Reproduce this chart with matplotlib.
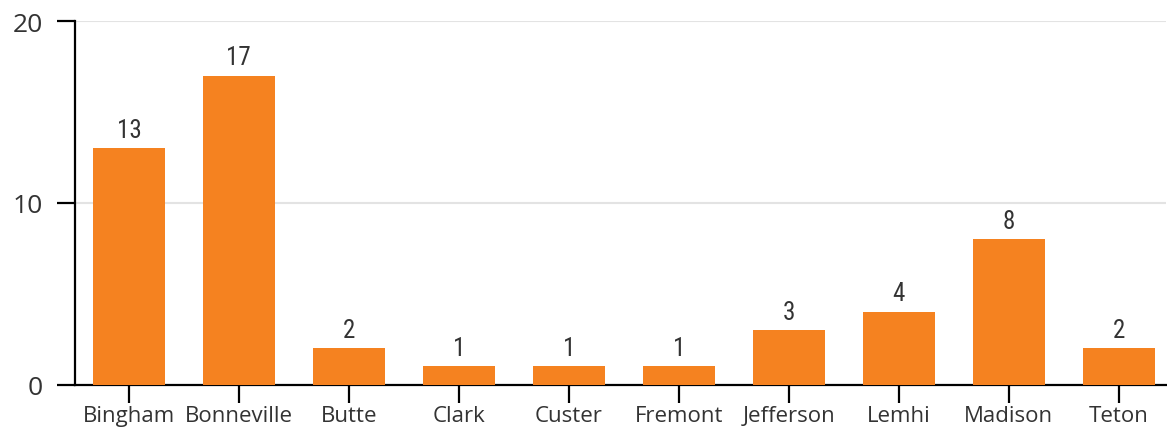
import matplotlib.pyplot as plt
import numpy as np

counties = ["Bingham", "Bonneville", "Butte", "Clark", "Custer",
            "Fremont", "Jefferson", "Lemhi", "Madison", "Teton"]
counts = [13, 17, 2, 1, 1, 1, 3, 4, 8, 2]
yticks = [0, 10, 20]

orange = "#F58220"
textcol = "#333333"

fig = plt.figure(figsize=(11.67, 4.31), dpi=100)
ax = fig.add_axes([75 / 1167, 45.5 / 431, (1166 - 75) / 1167, (409 - 45.5) / 431])

x = np.arange(len(counties))
bars = ax.bar(x, counts, width=0.655, color=orange, zorder=3)

for xi, v in zip(x, counts):
    ax.text(xi, v + 0.35, str(v), ha="center", va="bottom",
            fontsize=18, color=textcol, family=["Roboto Condensed", "Roboto"],
            fontstretch="condensed")

ax.set_xlim(-0.49, 9.43)
ax.set_ylim(0, 20)
ax.set_yticks(yticks)
ax.set_xticks(x)
ax.set_xticklabels(counties, family="Open Sans", fontsize=16, color=textcol)
ax.set_yticklabels([str(t) for t in yticks], family="Open Sans", fontsize=19, color=textcol)

ax.yaxis.grid(True, color="#e3e3e3", linewidth=1.5, zorder=0)
for s in ["top", "right"]:
    ax.spines[s].set_visible(False)
ax.spines["left"].set_linewidth(1.6)
ax.spines["bottom"].set_linewidth(1.6)
ax.tick_params(axis="both", length=13, width=1.6)
ax.tick_params(axis="x", pad=1.5)
ax.tick_params(axis="y", pad=10)

fig.savefig("out.png", dpi=100)
